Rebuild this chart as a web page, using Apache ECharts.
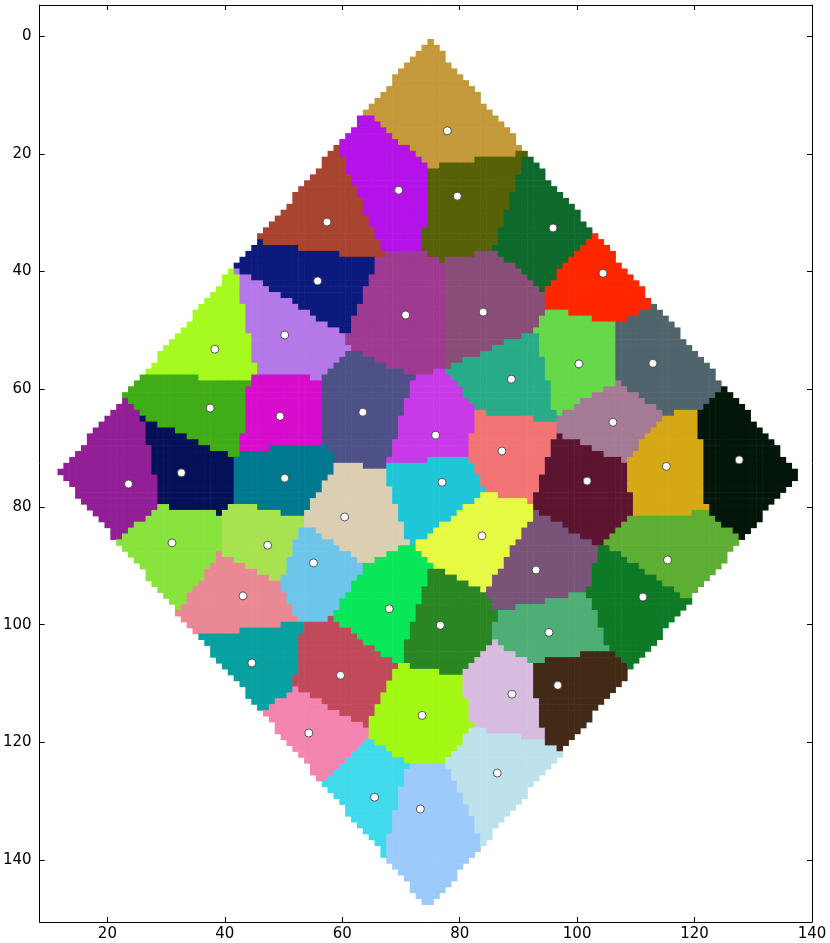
<!DOCTYPE html>
<html>
<head>
<meta charset="utf-8">
<script src="https://cdn.jsdelivr.net/npm/echarts@6/dist/echarts.min.js"></script>
<style>
  html, body { margin: 0; padding: 0; background: #fff; }
  #main { width: 830px; height: 943px; }
</style>
</head>
<body>
<div id="main"></div>
<script>
// centres of the segments (x, y in image units)
var seedX = [77.9, 69.6, 79.6, 57.4, 95.9, 104.4, 55.8, 70.8, 84.0, 50.2,
             38.3, 100.3, 112.9, 88.8, 37.5, 49.4, 63.5, 75.9, 106.1, 87.2,
             32.6, 23.6, 50.2, 77.0, 101.7, 115.2, 127.6, 60.4, 31.0, 47.3,
             83.8, 55.1, 93.0, 115.4, 43.1, 68.0, 111.2, 76.7, 95.2, 44.6,
             59.7, 96.7, 88.9, 73.6, 54.3, 86.4, 65.5, 73.3];
var seedY = [16.1, 26.2, 27.2, 31.6, 32.6, 40.3, 41.6, 47.4, 46.9, 50.8,
             53.2, 55.7, 55.6, 58.3, 63.2, 64.6, 63.9, 67.8, 65.6, 70.5,
             74.2, 76.1, 75.1, 75.8, 75.6, 73.1, 72.0, 81.7, 86.1, 86.5,
             84.9, 89.5, 90.7, 89.0, 95.1, 97.3, 95.3, 100.1, 101.3, 106.5,
             108.6, 110.3, 111.8, 115.4, 118.4, 125.2, 129.3, 131.3];
// one colour per segment
var segColors = ['#c4993a', '#b412e8', '#566108', '#a84430', '#0e6a2c', '#ff2600', '#0c1a7e', '#9e3a90', '#884e78', '#b478e8',
                 '#a6fa20', '#66d84a', '#50646e', '#28ac88', '#40ac18', '#d80ccc', '#4e5088', '#c83ae8', '#a47a94', '#f27474',
                 '#041058', '#921f96', '#007890', '#1ec6d8', '#5c1430', '#d6a816', '#04160a', '#dcceb2', '#88e43c', '#a8e250',
                 '#e6fa44', '#6cc6ea', '#7a5478', '#5eae34', '#ea8894', '#0ae65a', '#0e7a26', '#2a8622', '#4eae76', '#08a0a0',
                 '#c04a5a', '#432a16', '#d8bce0', '#a2f812', '#f484b0', '#bee2ec', '#40daec', '#9ccafa'];
// the diamond shaped image area
var diamond = { cx: 74.7, cy: 74.2, hw: 63, hh: 74 };

// label every image pixel with the nearest centre
var cells = [];
for (var y = 0; y <= 149; y++) {
  for (var x = 10; x <= 140; x++) {
    var d = Math.abs(x - diamond.cx) / diamond.hw + Math.abs(y - diamond.cy) / diamond.hh;
    if (d > 1) continue;
    var best = 0, bestD = Infinity;
    for (var k = 0; k < seedX.length; k++) {
      var dx = x - seedX[k], dy = y - seedY[k];
      var dd = dx * dx + dy * dy;
      if (dd < bestD) { bestD = dd; best = k; }
    }
    cells.push([x, y, best]);
  }
}
var seeds = seedX.map(function (v, i) { return [v, seedY[i]]; });

var chart = echarts.init(document.getElementById('main'), null, { renderer: 'canvas' });
var font = 'DejaVu Sans';
var tick = { show: true, inside: true, length: 5, lineStyle: { color: '#000' } };
chart.setOption({
  animation: false,
  backgroundColor: '#fff',
  grid: { left: 37, right: 18, top: 5, bottom: 21, containLabel: false },
  xAxis: [
    {
      type: 'value', min: 8.46, max: 140, splitNumber: 7,
      axisLine: { show: true, onZero: false, lineStyle: { color: '#000', width: 1 } },
      axisTick: tick,
      splitLine: { show: false },
      axisLabel: { color: '#000', fontFamily: font, fontSize: 15, margin: 5, showMinLabel: false, showMaxLabel: true }
    },
    {
      type: 'value', position: 'top', min: 8.46, max: 140, splitNumber: 7,
      axisLine: { show: true, onZero: false, lineStyle: { color: '#000', width: 1 } },
      axisTick: tick,
      splitLine: { show: false },
      axisLabel: { show: false }
    }
  ],
  yAxis: [
    {
      type: 'value', inverse: true, min: -5.27, max: 150.5, splitNumber: 8,
      axisLine: { show: true, onZero: false, lineStyle: { color: '#000', width: 1 } },
      axisTick: tick,
      splitLine: { show: false },
      axisLabel: { color: '#000', fontFamily: font, fontSize: 15, margin: 8, showMinLabel: false, showMaxLabel: false }
    },
    {
      type: 'value', position: 'right', inverse: true, min: -5.27, max: 150.5, splitNumber: 8,
      axisLine: { show: true, onZero: false, lineStyle: { color: '#000', width: 1 } },
      axisTick: tick,
      splitLine: { show: false },
      axisLabel: { show: false }
    }
  ],
  series: [
    {
      // the segmented image
      type: 'custom',
      xAxisIndex: 0, yAxisIndex: 0,
      data: cells,
      progressive: 0,
      silent: true,
      renderItem: function (params, api) {
        var p = api.coord([api.value(0) - 0.5, api.value(1) - 0.5]);
        var q = api.coord([api.value(0) + 0.5, api.value(1) + 0.5]);
        return {
          type: 'rect',
          shape: {
            x: Math.min(p[0], q[0]), y: Math.min(p[1], q[1]),
            width: Math.abs(q[0] - p[0]) + 0.6, height: Math.abs(q[1] - p[1]) + 0.6
          },
          style: { fill: segColors[api.value(2)] }
        };
      }
    },
    {
      // segment centres
      type: 'scatter',
      xAxisIndex: 0, yAxisIndex: 0,
      data: seeds,
      symbol: 'circle',
      symbolSize: 8,
      z: 5,
      itemStyle: { color: '#fff', borderColor: '#333', borderWidth: 0.8, opacity: 1 }
    }
  ]
});
</script>
</body>
</html>
